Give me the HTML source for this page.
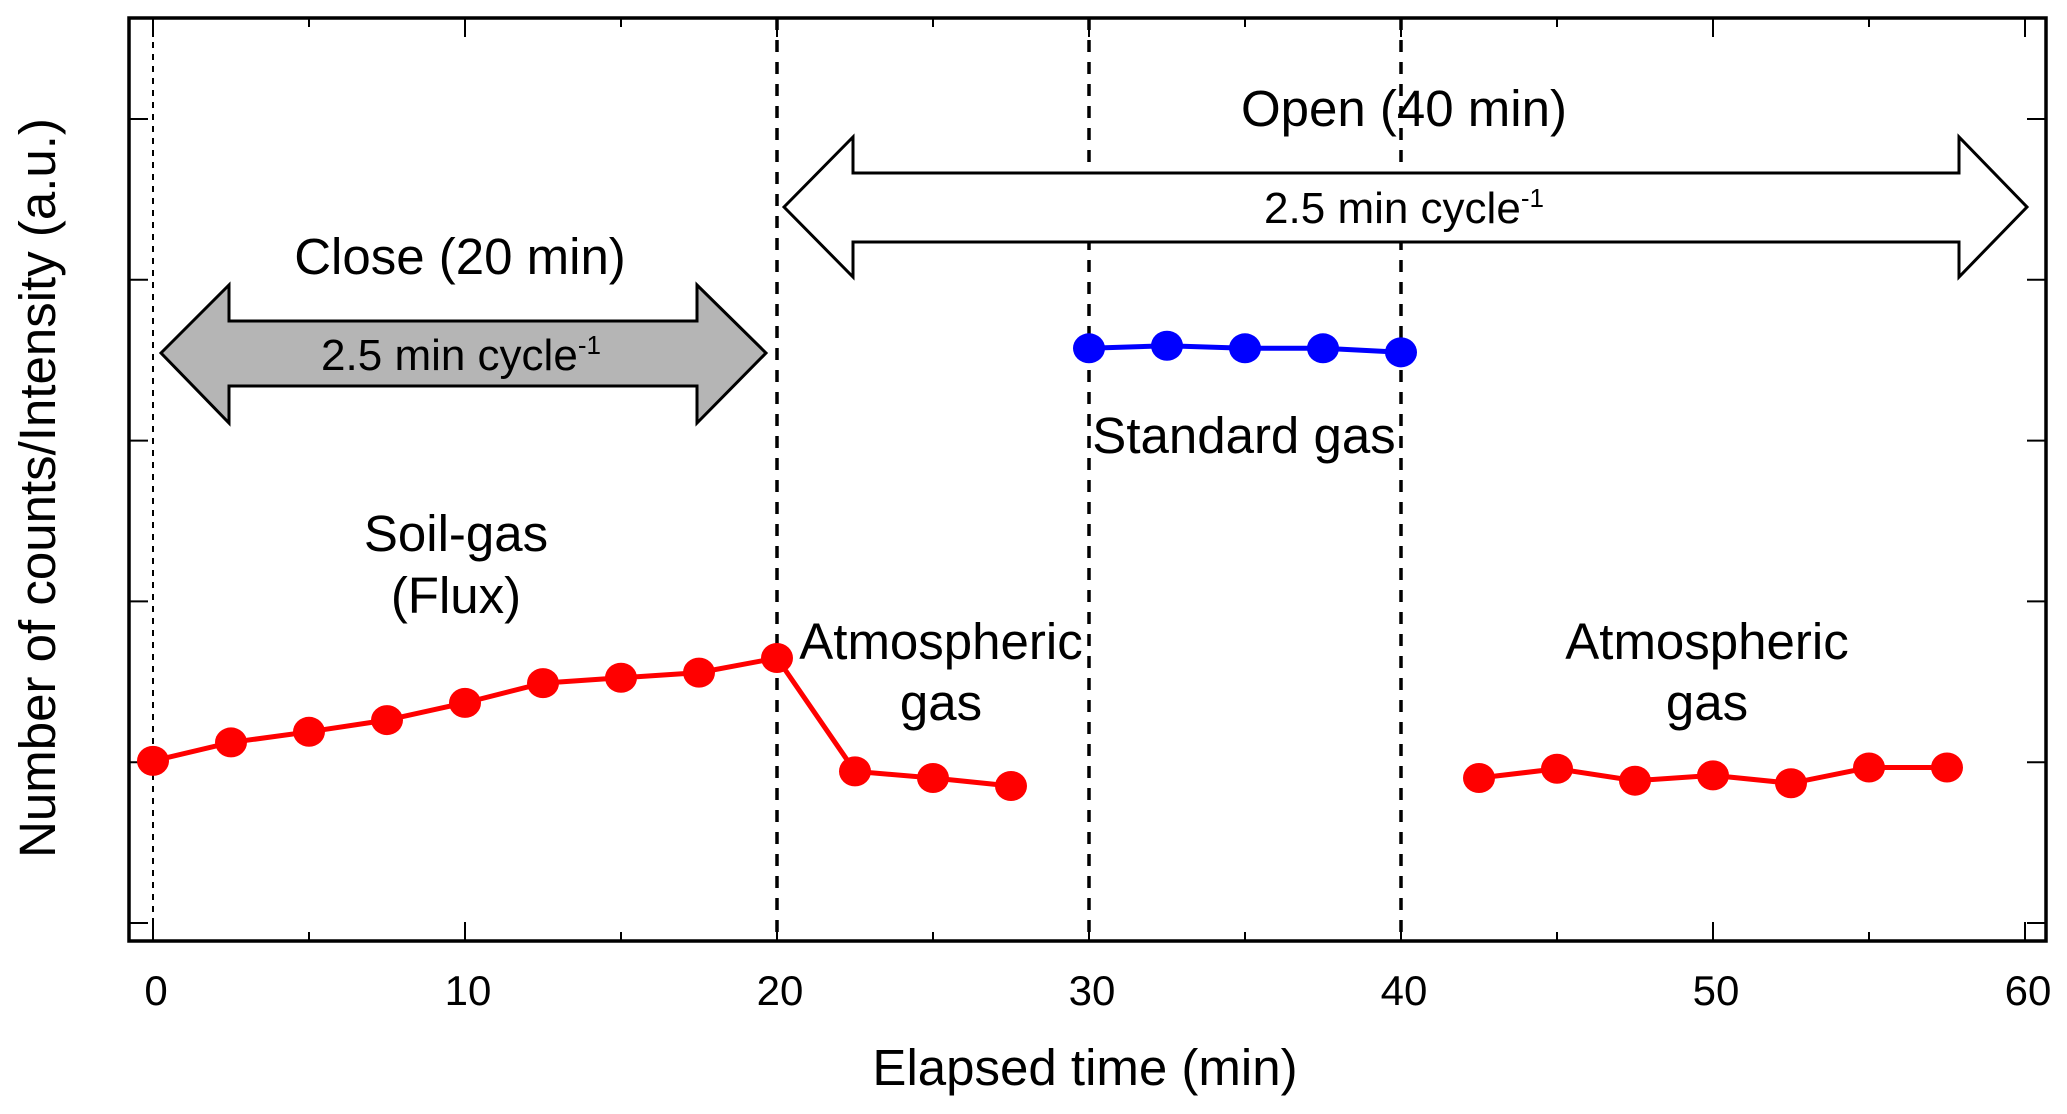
<!DOCTYPE html>
<html><head><meta charset="utf-8"><style>
html,body{margin:0;padding:0;background:#fff;}
svg{display:block;font-family:"Liberation Sans",Arial,sans-serif;}
</style></head><body>
<svg id="chart" width="2067" height="1114" viewBox="0 0 2067 1114">
<g id="grid"></g>
<g id="annotations">
  <polygon points="161,353 229,285 229,321 697,321 697,285 766,353 697,423 697,386 229,386 229,423" fill="#b5b5b5" stroke="#000" stroke-width="3"/>
  <polygon points="784,207 853,137 853,173 1959,173 1959,137 2027,207 1959,277 1959,242 853,242 853,277" fill="#fff" stroke="#000" stroke-width="3"/>
  <text x="460" y="274" font-size="51" text-anchor="middle">Close (20 min)</text>
  <text x="1404" y="126" font-size="51" text-anchor="middle">Open (40 min)</text>
  <text x="461" y="370" font-size="44" text-anchor="middle">2.5 min cycle<tspan font-size="26" dy="-16">-1</tspan></text>
  <text x="1404" y="223" font-size="44" text-anchor="middle">2.5 min cycle<tspan font-size="26" dy="-16">-1</tspan></text>
  <text x="456" y="551" font-size="51" text-anchor="middle">Soil-gas</text>
  <text x="456" y="613" font-size="51" text-anchor="middle">(Flux)</text>
  <text x="941" y="659" font-size="51" text-anchor="middle">Atmospheric</text>
  <text x="941" y="720" font-size="51" text-anchor="middle">gas</text>
  <text x="1244" y="453" font-size="51" text-anchor="middle">Standard gas</text>
  <text x="1707" y="659" font-size="51" text-anchor="middle">Atmospheric</text>
  <text x="1707" y="720" font-size="51" text-anchor="middle">gas</text>
</g>
<g id="series"></g>
<text x="1085" y="1085" font-size="51" text-anchor="middle">Elapsed time (min)</text>
<text transform="translate(55,488) rotate(-90)" font-size="51" text-anchor="middle">Number of counts/Intensity (a.u.)</text>
</svg>
<script>
const xTicks = [0,10,20,30,40,50,60];
const xMinorTicks = [5,15,25,35,45,55];
const yTicks = [0,1,2,3,4,5];
const phaseLines = [20,30,40];
const soilX = [0,2.5,5,7.5,10,12.5,15,17.5,20,22.5,25,27.5];
const soilY = [1.008,1.123,1.189,1.262,1.369,1.492,1.525,1.557,1.648,0.943,0.902,0.852];
const stdX = [30,32.5,35,37.5,40];
const stdY = [3.574,3.590,3.574,3.574,3.549];
const atmX = [42.5,45,47.5,50,52.5,55,57.5];
const atmY = [0.902,0.959,0.885,0.918,0.869,0.967,0.967];

const L=129,R=2046,T=18,B=941;
function sx(v){return 153+v*(2025-153)/60;}
function sy(v){return 923-v*160.8;}
const NS="http://www.w3.org/2000/svg";
function mk(tag,attrs,parent){const e=document.createElementNS(NS,tag);for(const k in attrs)e.setAttribute(k,attrs[k]);parent.appendChild(e);return e;}
const grid=document.getElementById('grid');
const ser=document.getElementById('series');

let e=mk('line',{x1:sx(0),x2:sx(0),y1:T,y2:B,stroke:'#000','stroke-width':2,'stroke-dasharray':'6,6'},grid);


phaseLines.forEach(v=>{
  const l=mk('line',{x1:sx(v),x2:sx(v),y1:T,y2:B,stroke:'#000','stroke-width':3.5,'stroke-dasharray':'12,10'},grid);
  
  
});
xTicks.forEach(v=>{
  const x=sx(v);
  mk('line',{x1:x,x2:x,y1:B,y2:B-19,stroke:'#000','stroke-width':2},grid);
  mk('line',{x1:x,x2:x,y1:T,y2:T+19,stroke:'#000','stroke-width':2},grid);
  const t=mk('text',{x:x+3,y:1005,'font-size':42,'text-anchor':'middle'},grid);
  t.textContent=v;
  
  
});
xMinorTicks.forEach(v=>{
  const x=sx(v);
  mk('line',{x1:x,x2:x,y1:B,y2:B-9,stroke:'#000','stroke-width':2},grid);
  mk('line',{x1:x,x2:x,y1:T,y2:T+9,stroke:'#000','stroke-width':2},grid);
});
yTicks.forEach(v=>{
  const y=sy(v);
  mk('line',{x1:L,x2:L+19,y1:y,y2:y,stroke:'#000','stroke-width':2},grid);
  mk('line',{x1:R,x2:R-19,y1:y,y2:y,stroke:'#000','stroke-width':2},grid);
});
const frame=mk('rect',{x:L,y:T,width:R-L,height:B-T,fill:'none',stroke:'#000','stroke-width':3.5},grid);



function series(xs,ys,color,name){
  const g=mk('g',{},ser);
  
  
  mk('polyline',{points:xs.map((x,i)=>sx(x)+','+sy(ys[i])).join(' '),fill:'none',stroke:color,'stroke-width':5},g);
  xs.forEach((x,i)=>{
    const c=mk('ellipse',{cx:sx(x),cy:sy(ys[i]),rx:16,ry:15,fill:color},g);
    
    
  });
}
series(soilX,soilY,'#ff0000','soil-gas-series');
series(stdX,stdY,'#0000ff','standard-gas-series');
series(atmX,atmY,'#ff0000','atmospheric-gas-series');
</script>
</body></html>
